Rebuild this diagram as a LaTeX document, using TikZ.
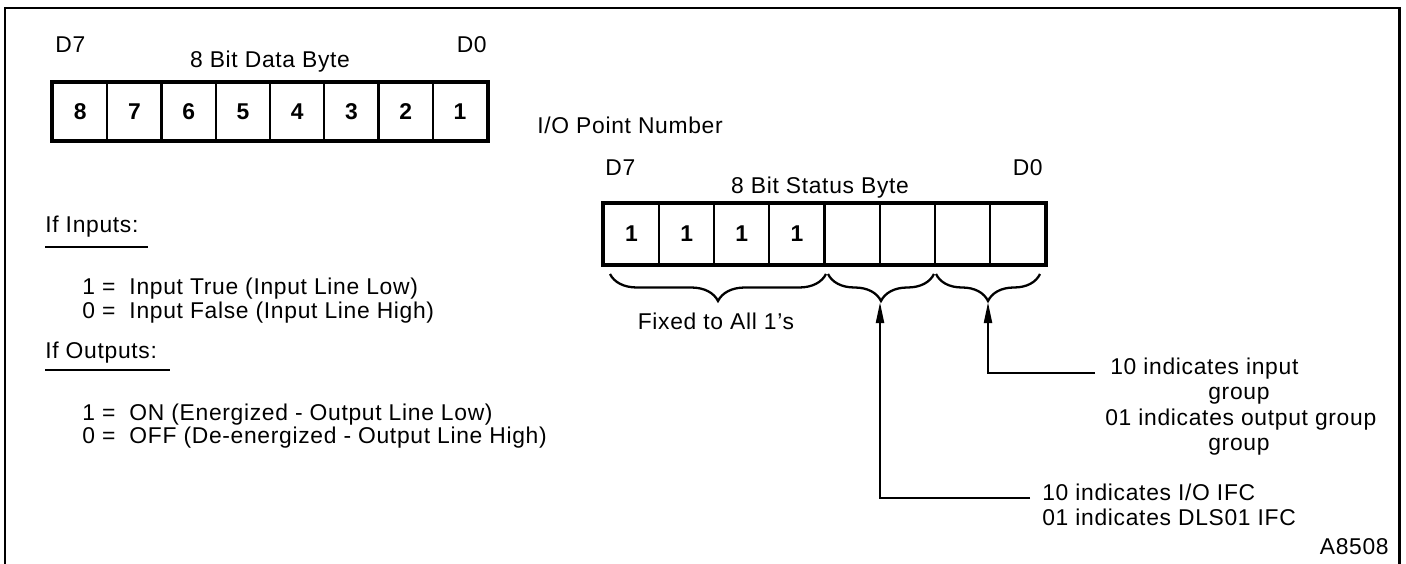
\documentclass[tikz,border=0pt]{standalone}
\usepackage{fontspec}
\setmainfont{Liberation Sans}[LetterSpace=3]
\usetikzlibrary{arrows.meta,decorations.pathreplacing,calc}

\begin{document}
\begin{tikzpicture}[x=0.02cm,y=-0.02cm,
  every node/.style={font=\fontsize{13}{15}\selectfont,inner sep=0pt},
  lbl/.style={anchor=base west},
  dcell/.style={draw,line width=1.2pt,minimum width=1.085cm,minimum height=1.14cm,font=\fontsize{13}{15}\selectfont\bfseries},
  scell/.style={dcell,minimum width=1.1025cm,minimum height=1.2cm},
  brc/.style={decorate,line width=1.3pt,decoration={brace,mirror,amplitude=0.54cm}},
  arr/.style={line width=1.4pt,-{Triangle[length=12pt,width=4.5pt]}}]
\useasboundingbox (0,0) rectangle (1406,564);
\draw[line width=1.7pt] (5,564) -- (5,8) -- (1399,8) -- (1399,564);
\foreach \n [count=\i] in {8,...,1}
  \node[dcell] (d\i) at ({53+54.25*(\i-0.5)},111.5) {\n};
\draw[line width=1.9pt] (d1.north west) rectangle (d8.south east);
\node[lbl] (dd7) at (55,53) {D7};
\node[anchor=base east] (dd0) at (487,53) {D0};
\node[anchor=base] (dtitle) at (270,68) {8 Bit Data Byte};
\node[lbl] (ifin) at (45,233) {If Inputs:};
\draw[line width=1.3pt] ($(ifin.base west)+(0,14)$) -- ++(103,0);
\node[lbl] (in1) at (82,295) {1 =\ \ Input True (Input Line Low)};
\node[lbl] (in0) at (82,318) {0 =\ \ Input False (Input Line High)};
\node[lbl] (ifout) at (45,358) {If Outputs:};
\draw[line width=1.3pt] ($(ifout.base west)+(0,12)$) -- ++(125,0);
\node[lbl] (out1) at (82,420) {1 =\ \ ON (Energized - Output Line Low)};
\node[lbl] (out0) at (82,443) {0 =\ \ OFF (De-energized - Output Line High)};
\node[lbl] (iop) at (537,134) {I/O Point Number};
\foreach \i in {1,...,8}
  \node[scell] (s\i) at ({604+55.125*(\i-0.5)},234) {\ifnum\i<5 1\fi};
\draw[line width=1.9pt] (s1.north west) rectangle (s8.south east);
\node[lbl] (sd7) at (605,176) {D7};
\node[anchor=base east] (sd0) at (1043,176) {D0};
\node[anchor=base] (stitle) at (820,194) {8 Bit Status Byte};
\draw[brc] (610,274) -- (826,274);
\draw[brc] (828,274) -- (934,274);
\draw[brc] (936,274) -- (1040,274);
\node[anchor=base] (fixed) at (716,329) {Fixed to All 1's};
\coordinate (tipa) at (880,302);
\coordinate (tipb) at (988,302);
\node[lbl] (inp1) at (1110,374) {10 indicates input};
\node[lbl] (inp2) at (1208,399) {group};
\node[lbl] (inp3) at (1105,425) {01 indicates output group};
\node[lbl] (inp4) at (1208,450) {group};
\node[lbl] (ifc1) at (1042,500) {10 indicates I/O IFC};
\node[lbl] (ifc2) at (1042,525) {01 indicates DLS01 IFC};
\node[anchor=base east] (code) at (1389,554) {A8508};
\draw[arr] ($(ifc1.base west)+(-12,-2)$) -| (tipa);
\draw[arr] ($(inp1.base west)+(-15,-1)$) -| (tipb);
\end{tikzpicture}
\end{document}
